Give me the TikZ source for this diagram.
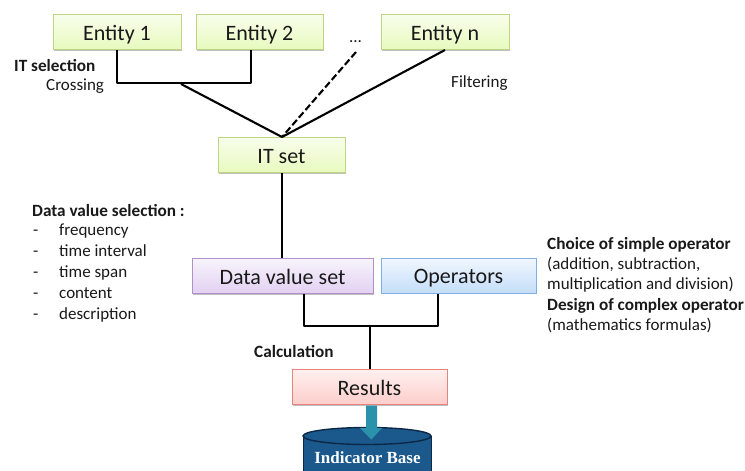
\documentclass[tikz,border=0pt]{standalone}
\usepackage{fontspec}
\setmainfont{Carlito}
\newfontfamily\serifbase{Liberation Serif}
\usetikzlibrary{shadows,calc}
\definecolor{gedge}{RGB}{190,214,130}
\definecolor{gfill}{RGB}{232,250,190}
\definecolor{pedge}{RGB}{175,145,200}
\definecolor{pfill}{RGB}{226,208,242}
\definecolor{bedge}{RGB}{130,175,225}
\definecolor{bfill}{RGB}{196,222,250}
\definecolor{redge}{RGB}{232,130,125}
\definecolor{rfill}{RGB}{252,205,202}
\definecolor{dbblue}{RGB}{27,88,140}
\definecolor{dbdark}{RGB}{12,40,70}
\definecolor{teal2}{RGB}{43,146,172}
\tikzset{
  x=1pt,y=-1pt,
  boxbase/.style={rectangle,minimum height=35pt,inner sep=0pt,line width=1pt,text=black!90,
    font=\fontsize{22}{24}\selectfont,text height=16.5pt,text depth=0pt,
    drop shadow={shadow xshift=0.5pt,shadow yshift=-1.2pt,fill=black,opacity=0.25}},
  greenbox/.style={boxbase,draw=gedge,top color=white!70!gfill,bottom color=gfill},
  purplebox/.style={boxbase,draw=pedge,top color=white!75!pfill,bottom color=pfill},
  bluebox/.style={boxbase,draw=bedge,top color=white!75!bfill,bottom color=bfill},
  redbox/.style={boxbase,draw=redge,top color=white!70!rfill,bottom color=rfill},
  conn/.style={draw=black,line width=2.1pt,line join=round},
  lab/.style={inner sep=0pt,text=black!90,font=\fontsize{17}{20}\selectfont},
  blab/.style={lab,font=\fontsize{17.2}{20}\selectfont\bfseries},
}
\begin{document}
\begin{tikzpicture}
\useasboundingbox (0,0) rectangle (745,471);
\clip (0,0) rectangle (745,471);
% nodes
\node[greenbox,minimum width=128pt] (e1) at (117,32) {Entity 1};
\node[greenbox,minimum width=127pt] (e2) at (259.5,32) {Entity 2};
\node[greenbox,minimum width=128pt] (en) at (445,32) {Entity n};
\node[greenbox,minimum width=127pt] (it) at (281.5,155) {IT set};
\node[purplebox,minimum width=181pt] (dv) at (282.5,276) {Data value set};
\node[bluebox,minimum width=155pt] (op) at (458.5,275.5) {Operators};
\node[redbox,minimum width=155pt] (res) at (369.5,387) {Results};
% free coordinates
\coordinate (j1) at (181,84);
\coordinate (l1) at (117,83);
\coordinate (r1) at (251,83);
\coordinate (top) at (282,137);
\coordinate (dots) at (356,52);
\coordinate (l2) at (304,326);
\coordinate (r2) at (438,326);
\coordinate (j2) at (370,326);
% connectors
\draw[conn] (e1.south -| l1) -- (l1) -- (r1) -- (e2.south -| r1);
\draw[conn] (j1) -- (top);
\draw[conn,dash pattern=on 7pt off 3pt] (dots) -- (top);
\draw[conn] (en.south) -- (top);
\draw[conn] (it.south -| top) -- (dv.north -| top);
\draw[conn] (dv.south -| l2) -- (l2) -- (r2) -- (op.south -| r2);
\draw[conn] (j2) -- (res.north -| j2);
% database
\coordinate (dbc) at (367,436);
\fill[dbblue] (303,436) -- (303,480) -- (431,480) -- (431,436) -- cycle;
\draw[dbdark,line width=1pt] (303,436) -- (303,480) (431,436) -- (431,480);
\draw[dbdark,line width=1.4pt,fill=dbblue] (dbc) ellipse [x radius=64pt,y radius=8.5pt];
\node[inner sep=0pt,text=white,font=\serifbase\fontsize{17}{20}\selectfont\bfseries] (ib) at (367.5,458) {Indicator Base};
% arrow
\fill[teal2] (366,405.5) -- (377,405.5) -- (377,428) -- (382,428) -- (371.5,439.5) -- (360,428) -- (366,428) -- cycle;
% labels
\node[lab,anchor=base] (dd) at (355.5,42) {...};
\node[blab,anchor=base west] (t1) at (14,71) {IT selection};
\node[lab,anchor=base west] (t2) at (46,90) {Crossing};
\node[lab,anchor=base west] (t3) at (451,87) {Filtering};
\node[blab,anchor=base west] (t4) at (32,216) {Data value selection :};
\foreach \yy/\tx/\nm in {235/frequency/a,256/time interval/b,277/time span/c,298/content/d,319/description/e}{
  \node[lab,anchor=base west] (dash\nm) at (33,\yy) {-};
  \node[lab,anchor=base west] (item\nm) at (59,\yy) {\tx};
}
\node[blab,anchor=base west] (t5) at (547,249) {Choice of simple operator};
\node[lab,anchor=base west] (t6) at (547,269) {(addition, subtraction,};
\node[lab,anchor=base west] (t7) at (547,289) {multiplication and division)};
\node[blab,anchor=base west] (t8) at (547,310) {Design of complex operator};
\node[lab,anchor=base west] (t9) at (547,330) {(mathematics formulas)};
\node[blab,anchor=base west] (t10) at (254,357) {Calculation};
\end{tikzpicture}
\end{document}
